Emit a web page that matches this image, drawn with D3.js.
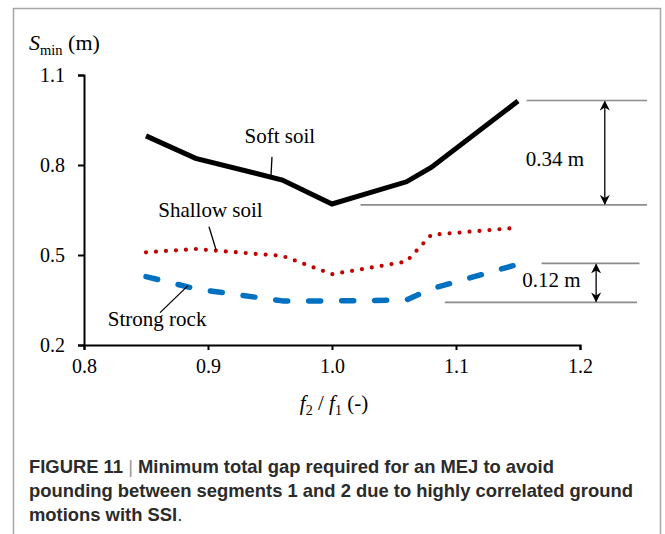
<!DOCTYPE html>
<html>
<head>
<meta charset="utf-8">
<script src="https://cdn.jsdelivr.net/npm/d3@7"></script>
<style>
  html, body { margin: 0; padding: 0; background: #fff; }
  svg { display: block; }
</style>
</head>
<body>
<svg id="chart" width="665" height="534"></svg>
<script>
// ---- data ----
const ratios = [0.85, 0.89, 0.96, 1.0, 1.06, 1.08, 1.15];
const softSoil = [0.897, 0.822, 0.750, 0.670, 0.744, 0.792, 1.013];
const shallowSoil = [0.509, 0.520, 0.497, 0.436, 0.478, 0.567, 0.591];
const strongRock = [0.428, 0.387, 0.347, 0.347, 0.350, 0.387, 0.469];
const xTicks = [0.8, 0.9, 1.0, 1.1, 1.2];
const yTicks = [0.2, 0.5, 0.8, 1.1];
const seriesNames = ["Soft soil", "Shallow soil", "Strong rock"];
const gapLabels = ["0.34 m", "0.12 m"];
const captionLines = [
  ["FIGURE 11", "Minimum total gap required for an MEJ to avoid"],
  ["", "pounding between segments 1 and 2 due to highly correlated ground"],
  ["", "motions with SSI"]
];

const svg = d3.select("#chart");
const x = d3.scaleLinear().domain([0.8, 1.2]).range([84, 580]);
const y = d3.scaleLinear().domain([0.2, 1.1]).range([345, 75]);
const serif = "'Liberation Serif', 'Times New Roman', serif";

// frame
const frame = svg.append("g").attr("stroke", "#a6a6a6").attr("stroke-width", 1.5).attr("fill", "none");
frame.append("path").attr("d", "M13.5,534 L13.5,8.5 L660.5,8.5 L660.5,534");

// axes
const xAxis = d3.axisBottom(x).tickValues(xTicks).tickFormat(d3.format(".1f")).tickSizeOuter(0).tickSize(5);
const gx = svg.append("g").attr("transform", `translate(0,${y(0.2)})`).call(xAxis);
const yAxis = d3.axisLeft(y).tickValues(yTicks).tickFormat(d3.format(".1f")).tickSizeOuter(0).tickSize(6);
const gy = svg.append("g").attr("transform", `translate(${x(0.8)},0)`).call(yAxis);
[gx, gy].forEach(g => {
  g.select(".domain").attr("stroke", "#000").attr("stroke-width", 2);
  g.selectAll(".tick line").attr("stroke", "#000").attr("stroke-width", 2);
  g.selectAll(".tick text").attr("font-family", serif).attr("font-size", 20).attr("fill", "#000");
});
gx.selectAll(".tick text").attr("dy", null).attr("y", 28);
gy.selectAll(".tick text").attr("x", -19).attr("dy", "0.34em");

// reference (gap) lines
const refG = svg.append("g").attr("stroke", "#8c8c8c").attr("stroke-width", 1.6);
const refLines = [
  [1.157, 1.254, 1.015], [1.023, 1.254, 0.667],
  [1.169, 1.248, 0.472], [1.091, 1.246, 0.342]
];
refLines.forEach(r => refG.append("line")
  .attr("x1", x(r[0])).attr("x2", x(r[1])).attr("y1", y(r[2])).attr("y2", y(r[2])));

// arrows
const defs = svg.append("defs");
defs.append("marker").attr("id", "ah").attr("viewBox", "0 0 10 10").attr("refX", 9).attr("refY", 5)
  .attr("markerWidth", 10).attr("markerHeight", 10).attr("markerUnits", "userSpaceOnUse")
  .attr("orient", "auto-start-reverse")
  .append("path").attr("d", "M0,0 L10,5 L0,10 L3,5 Z").attr("fill", "#000");
const arrows = [[1.220, 1.015, 0.667], [1.213, 0.472, 0.342]];
arrows.forEach(a => svg.append("line")
  .attr("x1", x(a[0])).attr("x2", x(a[0])).attr("y1", y(a[1]) + 1).attr("y2", y(a[2]) - 1)
  .attr("stroke", "#000").attr("stroke-width", 1.3)
  .attr("marker-start", "url(#ah)").attr("marker-end", "url(#ah)"));

svg.append("text").attr("x", x(1.1798)).attr("y", y(0.797)).attr("text-anchor", "middle")
  .attr("font-family", serif).attr("font-size", 21).text(gapLabels[0]);
svg.append("text").attr("x", x(1.177)).attr("y", y(0.392)).attr("text-anchor", "middle")
  .attr("font-family", serif).attr("font-size", 21).text(gapLabels[1]);

// series
const line = vals => d3.line().x((d, i) => x(ratios[i])).y(d => y(d))(vals);
svg.append("path").attr("d", line(strongRock)).attr("fill", "none")
  .attr("stroke", "#0070c0").attr("stroke-width", 5.5).attr("stroke-linecap", "round")
  .attr("stroke-linejoin", "round").attr("stroke-dasharray", "12 21");
svg.append("path").attr("d", line(shallowSoil)).attr("fill", "none")
  .attr("stroke", "#c00000").attr("stroke-width", 4.2).attr("stroke-linecap", "round")
  .attr("stroke-dasharray", "0 10");
svg.append("path").attr("d", line(softSoil)).attr("fill", "none")
  .attr("stroke", "#000").attr("stroke-width", 5).attr("stroke-linejoin", "miter");

// series labels + leaders
const labels = [
  {t: seriesNames[0], x: 0.958, y: 0.873, l: [0.9516, 0.827, 0.9508, 0.763]},
  {t: seriesNames[1], x: 0.902, y: 0.628, l: [0.9008, 0.594, 0.9065, 0.517]},
  {t: seriesNames[2], x: 0.859, y: 0.262, l: [0.8613, 0.308, 0.8839, 0.398]}
];
labels.forEach(o => {
  svg.append("text").attr("x", x(o.x)).attr("y", y(o.y)).attr("text-anchor", "middle")
    .attr("font-family", serif).attr("font-size", 21).text(o.t);
  svg.append("line").attr("x1", x(o.l[0])).attr("y1", y(o.l[1])).attr("x2", x(o.l[2])).attr("y2", y(o.l[3]))
    .attr("stroke", "#000").attr("stroke-width", 1.3);
});

// axis titles
const yt = svg.append("text").attr("x", 29).attr("y", 50).attr("font-family", serif).attr("font-size", 22);
yt.append("tspan").attr("font-style", "italic").text("S");
yt.append("tspan").attr("font-size", 14.5).attr("dy", 5).text("min");
yt.append("tspan").attr("dy", -5).text(" (m)");

const xt = svg.append("text").attr("x", 334).attr("y", 410).attr("text-anchor", "middle")
  .attr("font-family", serif).attr("font-size", 21);
xt.append("tspan").attr("font-style", "italic").text("f");
xt.append("tspan").attr("font-size", 14).attr("dy", 5).text("2");
xt.append("tspan").attr("dy", -5).text(" / ");
xt.append("tspan").attr("font-style", "italic").text("f");
xt.append("tspan").attr("font-size", 14).attr("dy", 5).text("1");
xt.append("tspan").attr("dy", -5).text(" (-)");

// caption
const sans = "'Liberation Sans', Arial, Helvetica, sans-serif";
const capY = [473, 497, 521];
captionLines.forEach((c, i) => {
  const t = svg.append("text").attr("x", 29).attr("y", capY[i]).attr("font-family", sans)
    .attr("font-size", 18.4).attr("font-weight", "bold").attr("fill", "#2b2b2b");
  if (c[0]) {
    t.append("tspan").text(c[0] + " ");
    t.append("tspan").attr("font-weight", "normal").attr("fill", "#999").text("|");
    t.append("tspan").text(" " + c[1]);
  } else {
    t.append("tspan").text(c[1]);
  }
  if (i === captionLines.length - 1) t.append("tspan").attr("font-weight", "normal").text(".");
});
</script>
</body>
</html>
